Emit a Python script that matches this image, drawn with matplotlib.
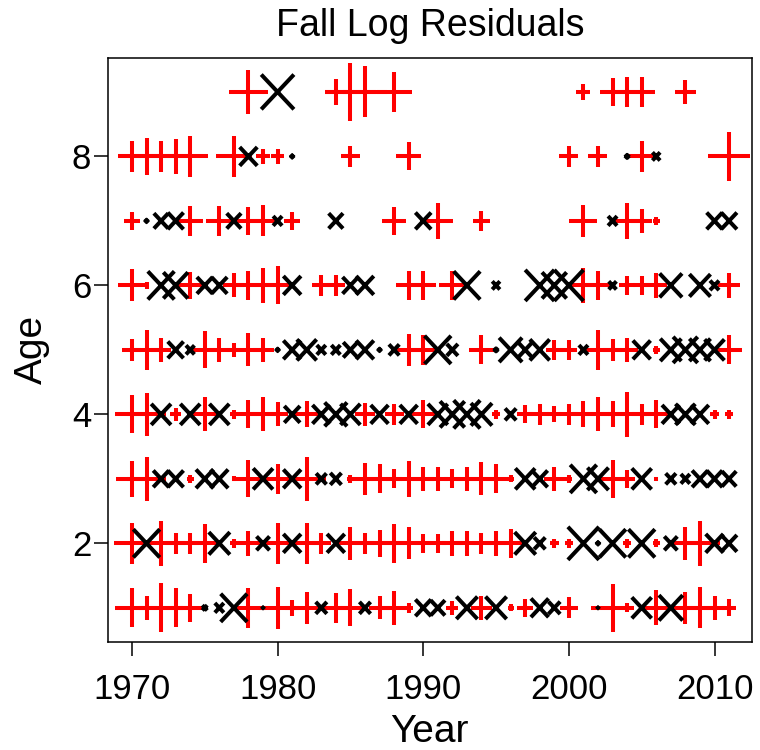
import numpy as np
import matplotlib
matplotlib.use('Agg')
import matplotlib.pyplot as plt
from matplotlib.path import Path
from matplotlib.markers import MarkerStyle

nan = np.nan
years = list(range(1970, 2012))
ages = list(range(1, 10))

# log residuals by age, one value per year 1970..2011 (nan = no data)
age1 = [1.32, 0.82, 1.68, 1.32, 0.95, -0.15, -0.30, -0.95, 1.38, -0.05,
        1.45, 0.52, 1.10, -0.38, 1.02, 1.25, -0.38, 0.78, 1.15, 0.30,
        -0.55, -0.50, 0.45, -0.75, 0.80, -0.75, 0.20, 0.60, -0.62, -0.40,
        0.70, nan, -0.05, 1.65, 0.28, -0.70, 1.20, -0.85, 1.10, 1.40,
        0.80, 0.55]
age2 = [1.40, -0.95, 1.52, 0.70, 0.70, 1.35, -0.75, 0.30, 0.82, -0.45,
        1.42, -0.62, 1.42, 0.70, -0.62, 1.12, 0.72, 0.92, 1.35, 1.08,
        0.62, 0.62, 0.82, 0.82, 0.72, 0.82, 0.98, -0.75, -0.38, 0.30,
        0.30, -1.12, -0.10, -0.95, 0.30, -0.95, 0.25, -0.45, 1.12, 1.52,
        -0.62, -0.55]
age3 = [1.20, 1.50, -0.55, -0.55, 0.25, -0.62, -0.62, 0.15, 1.25, -0.70,
        1.00, -0.62, 1.48, -0.35, -0.38, 0.25, 1.10, 0.98, 0.62, 1.22,
        0.82, 0.78, 0.62, 0.82, 1.12, 0.98, 0.22, -0.70, -0.55, 0.82,
        0.25, -0.95, -0.75, 1.30, 0.58, -0.70, 0.10, -0.35, -0.30, -0.55,
        -0.55, -0.50]
age4 = [1.30, 1.48, -0.70, 0.40, -0.70, 1.15, -0.70, 0.30, 0.95, 1.15,
        0.80, -0.55, 0.88, -0.62, -0.80, -0.70, 0.75, -0.62, 0.72, -0.62,
        0.95, -0.70, -0.88, -0.95, -0.75, 0.30, -0.38, 0.60, 0.70, 0.52,
        0.70, 0.88, 1.15, 0.88, 1.52, 0.70, 0.95, -0.62, -0.70, -0.62,
        0.30, 0.30]
age5 = [0.72, 1.38, 0.78, -0.55, -0.28, 1.25, 0.78, 0.48, 1.12, 0.80,
        -0.10, -0.62, -0.70, -0.30, -0.30, -0.50, -0.62, -0.10, -0.35, 1.08,
        1.00, -0.95, -0.38, nan, 0.98, -0.12, -0.82, -0.55, -0.70, 0.65,
        0.65, -0.30, 1.38, 0.72, 0.82, -0.62, 0.25, -0.75, -0.88, -0.75,
        -0.70, 0.98]
age6 = [1.08, 0.20, -0.95, -0.88, 0.90, -0.55, -0.55, 0.80, 1.00, 1.20,
        1.30, -0.62, nan, 0.68, 0.70, -0.55, -0.62, nan, nan, 1.00,
        1.00, nan, 1.00, -0.95, nan, -0.25, nan, nan, -1.05, -0.88,
        -1.05, 1.20, 0.98, -0.25, 0.62, 0.62, 0.82, -0.80, nan, -0.75,
        -0.30, 0.82]
age7 = [0.62, -0.10, -0.50, -0.55, 1.02, nan, 1.00, -0.50, 0.95, 1.05,
        -0.30, 0.62, nan, nan, -0.50, nan, nan, nan, 0.95, nan,
        -0.55, 1.20, nan, nan, 0.65, nan, nan, nan, nan, nan,
        nan, 1.08, nan, -0.30, 1.20, 0.82, 0.25, nan, nan, nan,
        -0.55, -0.55]
age8 = [1.05, 1.28, 1.05, 1.20, 1.38, nan, nan, 1.38, -0.62, 0.50,
        0.50, -0.10, nan, nan, nan, 0.72, nan, nan, nan, 0.95,
        nan, nan, nan, nan, nan, nan, nan, nan, nan, nan,
        0.72, nan, 0.72, nan, -0.12, 1.02, -0.25, nan, nan, nan,
        nan, 1.65]
age9 = [nan, nan, nan, nan, nan, nan, nan, nan, 1.50, nan,
        -1.18, nan, nan, nan, 0.85, 2.00, 1.75, nan, 1.35, nan,
        nan, nan, nan, nan, nan, nan, nan, nan, nan, nan,
        nan, 0.52, nan, 0.95, 1.00, 1.02, nan, nan, 0.78, nan,
        nan, nan]

resid = np.array([age1, age2, age3, age4, age5, age6, age7, age8, age9])

plt.rcParams['font.family'] = ['Liberation Sans', 'DejaVu Sans']

# open-line marker shapes (plus slightly narrower than tall)
plus_path = Path([(-0.44, 0), (0.44, 0), (0, -0.5), (0, 0.5)],
                 [Path.MOVETO, Path.LINETO, Path.MOVETO, Path.LINETO])
cross_path = Path([(-0.47, -0.5), (0.47, 0.5), (-0.47, 0.5), (0.47, -0.5)],
                  [Path.MOVETO, Path.LINETO, Path.MOVETO, Path.LINETO])
plus_m = MarkerStyle(plus_path, capstyle='round')
cross_m = MarkerStyle(cross_path, capstyle='round')

yy, aa = np.meshgrid(years, ages)
x = yy.ravel()
y = aa.ravel()
r = resid.ravel()
ok = ~np.isnan(r)
# marker extent: ~14.3 px half-height per unit residual, px -> pt
size_pt = np.maximum(2 * np.abs(r) * 14.3 + 1, 2.5) * 0.72

fig = plt.figure(figsize=(7.6, 7.5), dpi=100)
ax = fig.add_axes([0.142, 0.144, 0.847, 0.779])

pos = ok & (r > 0)
neg = ok & (r < 0)
ax.scatter(x[pos], y[pos], s=size_pt[pos] ** 2, marker=plus_m,
           facecolors='none', edgecolors='#ff0000', linewidths=2.9)
ax.scatter(x[neg], y[neg], s=size_pt[neg] ** 2, marker=cross_m,
           facecolors='none', edgecolors='black', linewidths=2.9)

ax.set_xlim(1968.35, 2012.55)
ax.set_ylim(0.47, 9.53)
ax.set_xticks([1970, 1980, 1990, 2000, 2010])
ax.set_yticks([2, 4, 6, 8])
ax.tick_params(labelsize=25, length=10, width=1.1, pad=12)
ax.tick_params(axis='y', pad=2)
for s in ax.spines.values():
    s.set_linewidth(1.1)
ax.set_xlabel('Year', fontsize=28, labelpad=6)
ax.set_ylabel('Age', fontsize=28, labelpad=16)
ax.set_title('Fall Log Residuals', fontsize=27, pad=16)

fig.savefig('out.png', dpi=100)
